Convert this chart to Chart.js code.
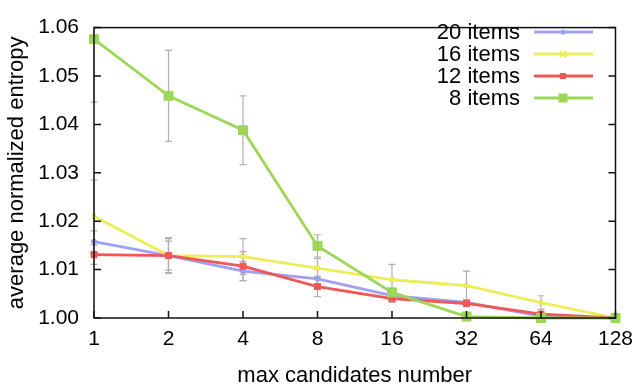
<!DOCTYPE html>
<html>
<head>
<meta charset="utf-8">
<script src="https://cdn.jsdelivr.net/npm/chart.js@4.4.1/dist/chart.umd.min.js"></script>
<style>
    html, body { margin: 0; padding: 0; background: #fff; }
</style>
</head>
<body>
<canvas id="myChart" width="642" height="389"></canvas>
<script>
// max candidates number (x categories)
const candidates = ["1", "2", "4", "8", "16", "32", "64", "128"];
const yTicks = [1.00, 1.01, 1.02, 1.03, 1.04, 1.05, 1.06];

// average normalized entropy
const items20 = [1.0158, 1.0129, 1.0097, 1.0081, 1.0046, 1.0032, 1.0004, 1.0000];
const items16 = [1.0210, 1.0129, 1.0127, 1.0103, 1.0079, 1.0067, 1.0032, 1.0000];
const items12 = [1.0131, 1.0129, 1.0107, 1.0065, 1.0040, 1.0030, 1.0008, 1.0000];
const items8 = [1.0576, 1.0459, 1.0388, 1.0149, 1.0053, 1.0003, 1.0000, 1.0000];

// error bar half widths
const err20 = [0.0022, 0.0030, 0.0020, 0.0020, 0.0008, 0.0006, 0.0003, 0];
const err16 = [0.0075, 0.0037, 0.0037, 0.0020, 0.0032, 0.0030, 0.0014, 0];
const err12 = [0.0020, 0.0035, 0.0030, 0.0021, 0.0007, 0.0006, 0.0004, 0];
const err8 = [0.0130, 0.0094, 0.0071, 0.0023, 0.0008, 0.0003, 0, 0];

const FONT = "'Liberation Sans', Arial, Helvetica, sans-serif";

function makeSet(label, values, errs, color, style, radius, order) {
    return {
        label: label,
        data: values,
        errors: errs,
        borderColor: color,
        backgroundColor: color,
        pointBackgroundColor: color,
        pointBorderColor: color,
        pointStyle: style,
        pointRadius: radius,
        pointBorderWidth: style === "crossRot" ? 2 : 1,
        borderWidth: 2.8,
        tension: 0,
        clip: false,
        order: order,
    };
}

// frame, inward ticks and error bars
const framePlugin = {
    id: "frame",
    beforeDatasetsDraw(chart) {
        const { ctx, scales } = chart;
        ctx.save();
        ctx.strokeStyle = "#b0b0b0";
        ctx.lineWidth = 1.2;
        chart.data.datasets.forEach((ds) => {
            ds.data.forEach((v, i) => {
                const e = ds.errors[i];
                if (!e) return;
                const x = scales.x.getPixelForValue(i);
                const top = Math.max(scales.y.getPixelForValue(v + e), chart.chartArea.top);
                const bot = Math.min(scales.y.getPixelForValue(v - e), chart.chartArea.bottom);
                ctx.beginPath();
                ctx.moveTo(x, top);
                ctx.lineTo(x, bot);
                if (scales.y.getPixelForValue(v + e) >= chart.chartArea.top) {
                    ctx.moveTo(x - 3.5, top);
                    ctx.lineTo(x + 3.5, top);
                }
                ctx.moveTo(x - 3.5, bot);
                ctx.lineTo(x + 3.5, bot);
                ctx.stroke();
            });
        });
        ctx.restore();
    },
    afterDraw(chart) {
        const { ctx, chartArea: a, scales } = chart;
        ctx.save();
        ctx.strokeStyle = "#111";
        ctx.lineWidth = 1.5;
        ctx.strokeRect(a.left, a.top, a.right - a.left, a.bottom - a.top);
        ctx.beginPath();
        yTicks.forEach((t) => {
            const y = scales.y.getPixelForValue(t);
            ctx.moveTo(a.left, y);
            ctx.lineTo(a.left + 7, y);
            ctx.moveTo(a.right, y);
            ctx.lineTo(a.right - 7, y);
        });
        candidates.forEach((c, i) => {
            const x = scales.x.getPixelForValue(i);
            ctx.moveTo(x, a.bottom);
            ctx.lineTo(x, a.bottom - 7);
        });
        ctx.stroke();

        // legend: text right aligned, sample line on the right
        ctx.font = "22px " + FONT;
        ctx.textAlign = "right";
        ctx.textBaseline = "middle";
        chart.data.datasets.forEach((ds, i) => {
            const y = 32 + i * 22;
            ctx.fillStyle = "#000";
            ctx.fillText(ds.label, 520, y + 1);
            ctx.strokeStyle = ds.borderColor;
            ctx.lineWidth = ds.borderWidth;
            ctx.beginPath();
            ctx.moveTo(534, y);
            ctx.lineTo(593, y);
            ctx.stroke();
            ctx.fillStyle = ds.pointBackgroundColor;
            ctx.strokeStyle = ds.pointBorderColor;
            ctx.lineWidth = ds.pointBorderWidth;
            ctx.beginPath();
            if (ds.pointStyle === "rect") {
                const s = Math.SQRT1_2 * ds.pointRadius;
                ctx.fillRect(563 - s, y - s, 2 * s, 2 * s);
            } else if (ds.pointStyle === "circle") {
                ctx.arc(563, y, ds.pointRadius, 0, Math.PI * 2);
                ctx.fill();
            } else {
                const r = ds.pointRadius;
                ctx.moveTo(563 - r, y - r);
                ctx.lineTo(563 + r, y + r);
                ctx.moveTo(563 - r, y + r);
                ctx.lineTo(563 + r, y - r);
                ctx.stroke();
            }
        });
        ctx.restore();
    },
};

const ctx = document.getElementById("myChart").getContext("2d");
const myChart = new Chart(ctx, {
    type: "line",
    data: {
        labels: candidates,
        datasets: [
            makeSet("20 items", items20, err20, "#a0a0f2", "circle", 2.6, 3),
            makeSet("16 items", items16, err16, "#eded5a", "crossRot", 3, 2),
            makeSet("12 items", items12, err12, "#ee5858", "rect", 4.3, 1),
            makeSet("8 items", items8, err8, "#9ed65a", "rect", 6.4, 0),
        ],
    },
    options: {
        responsive: false,
        animation: false,
        devicePixelRatio: 1,
        layout: { padding: { top: 15, right: 22, left: 0, bottom: 0 } },
        plugins: {
            legend: { display: false },
            tooltip: { enabled: false },
        },
        scales: {
            x: {
                type: "category",
                offset: false,
                grid: { display: false, drawTicks: false },
                border: { display: false },
                ticks: {
                    color: "#000",
                    font: { family: FONT, size: 21 },
                    padding: 9,
                    maxRotation: 0,
                    autoSkip: false,
                },
                title: {
                    display: true,
                    text: "max candidates number",
                    color: "#000",
                    font: { family: FONT, size: 22 },
                    padding: { top: 4, bottom: 0 },
                },
                afterFit(scale) {
                    scale.height = 71;
                },
            },
            y: {
                min: 1.0,
                max: 1.06,
                grid: { display: false, drawTicks: false },
                border: { display: false },
                ticks: {
                    stepSize: 0.01,
                    color: "#000",
                    font: { family: FONT, size: 21 },
                    padding: 15,
                    callback: (v) => v.toFixed(2),
                },
                title: {
                    display: true,
                    text: "average normalized entropy",
                    color: "#000",
                    font: { family: FONT, size: 22 },
                    padding: { top: 4, bottom: 0 },
                },
                afterFit(scale) {
                    scale.width = 94;
                },
            },
        },
    },
    plugins: [framePlugin],
});
</script>
</body>
</html>
